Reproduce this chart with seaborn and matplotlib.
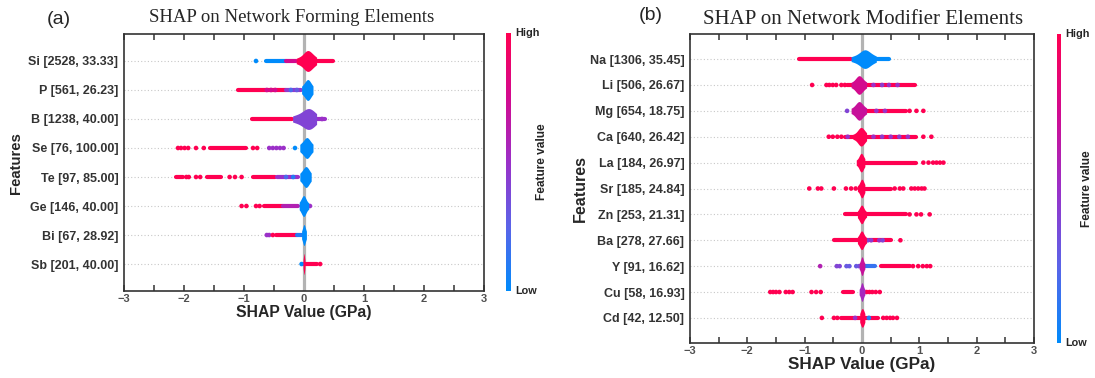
import numpy as np
import pandas as pd
import matplotlib
matplotlib.use('Agg')
import matplotlib.pyplot as plt
import seaborn as sns
from matplotlib.colors import LinearSegmentedColormap, Normalize
from matplotlib.cm import ScalarMappable
from matplotlib.ticker import MultipleLocator

# SHAP beeswarm, values
# runs = dense stretches of points (start, end, feature value), dots = single points (x, feature value)

forming_features = ['Si [2528, 33.33]', 'P [561, 26.23]', 'B [1238, 40.00]', 'Se [76, 100.00]',
                    'Te [97, 85.00]', 'Ge [146, 40.00]', 'Bi [67, 28.92]', 'Sb [201, 40.00]']
forming_core = [
    [-0.13, -0.06, 0.0, 0.03, 0.05, 0.06, 0.07, 0.09, 0.12, 0.16, 0.21],
    [-0.04, 0.0, 0.03, 0.05, 0.06, 0.07, 0.09, 0.11, 0.15],
    [-0.19, -0.10, -0.03, 0.02, 0.05, 0.07, 0.09, 0.12, 0.16, 0.21],
    [-0.07, -0.03, 0.0, 0.03, 0.04, 0.05, 0.06, 0.08, 0.11, 0.15],
    [-0.07, -0.03, 0.0, 0.02, 0.03, 0.04, 0.06, 0.08, 0.12],
    [-0.08, -0.04, -0.02, -0.01, 0.0, 0.01, 0.03, 0.08],
    [-0.04, -0.02, -0.01, 0.0, 0.0, 0.01, 0.02, 0.04],
    [-0.015, -0.005, 0.0, 0.0, 0.005, 0.015],
]
forming_core_level = [1.0, 0.0, 0.4, 0.0, 0.0, 0.0, 0.0, 1.0]
forming_runs = [
    [(-0.64, -0.30, 0.0), (-0.30, -0.14, 0.75), (0.18, 0.48, 1.0)],
    [(-1.10, -0.30, 1.0), (-0.30, -0.05, 0.45)],
    [(-0.86, -0.20, 1.0), (0.18, 0.35, 0.5)],
    [(-1.57, -0.96, 1.0)],
    [(-2.14, -2.02, 1.0), (-1.62, -1.38, 1.0), (-0.85, -0.49, 1.0), (-0.45, -0.10, 0.5)],
    [(-0.66, -0.35, 1.0), (-0.35, -0.10, 0.6)],
    [(-0.46, -0.12, 1.0), (-0.12, -0.03, 0.1)],
    [(0.0, 0.21, 1.0)],
]
forming_dots = [
    [(-0.80, 0.0)],
    [(-0.62, 0.75), (-0.55, 0.75), (-0.48, 0.75), (-0.22, 0.2), (-0.12, 0.3)],
    [(0.30, 0.5)],
    [(-2.10, 1), (-2.05, 1), (-1.99, 1), (-1.93, 1), (-1.80, 1), (-1.67, 1), (-0.85, 1), (-0.78, 1),
     (-0.58, 0.5), (-0.52, 0.5), (-0.46, 0.5), (-0.40, 0.5), (-0.34, 0.5), (-0.15, 0.0)],
    [(-1.96, 1), (-1.92, 1), (-1.80, 1), (-1.73, 1), (-1.24, 1), (-1.15, 1), (-1.04, 1),
     (-0.30, 0.2), (-0.18, 0.1)],
    [(-1.04, 1), (-0.96, 1), (-0.80, 1), (-0.74, 1), (0.10, 0.5)],
    [(-0.62, 0.5), (-0.58, 0.5), (-0.52, 1)],
    [(-0.04, 0.0), (0.27, 1)],
]

modifier_features = ['Na [1306, 35.45]', 'Li [506, 26.67]', 'Mg [654, 18.75]', 'Ca [640, 26.42]',
                     'La [184, 26.97]', 'Sr [185, 24.84]', 'Zn [253, 21.31]', 'Ba [278, 27.66]',
                     'Y [91, 16.62]', 'Cu [58, 16.93]', 'Cd [42, 12.50]']
modifier_core = [
    [-0.19, -0.10, -0.03, 0.01, 0.04, 0.05, 0.06, 0.08, 0.12, 0.18, 0.25],
    [-0.19, -0.12, -0.08, -0.06, -0.05, -0.04, -0.02, 0.02, 0.08],
    [-0.19, -0.12, -0.08, -0.06, -0.05, -0.04, -0.02, 0.02, 0.08],
    [-0.16, -0.09, -0.05, -0.03, -0.02, -0.01, 0.01, 0.04, 0.08],
    [-0.10, -0.05, -0.03, -0.02, -0.01, 0.0, 0.02, 0.05],
    [-0.08, -0.04, -0.02, -0.01, 0.0, 0.01, 0.02, 0.05],
    [-0.08, -0.04, -0.02, -0.01, 0.0, 0.01, 0.03, 0.08],
    [-0.08, -0.04, -0.02, -0.01, 0.0, 0.01, 0.03, 0.08],
    [-0.05, -0.02, -0.01, 0.0, 0.0, 0.01, 0.02, 0.05],
    [-0.05, -0.02, -0.01, 0.0, 0.0, 0.01, 0.02, 0.05],
    [-0.04, -0.02, -0.01, 0.0, 0.01, 0.02, 0.03, 0.05],
]
modifier_core_level = [0.0, 0.75, 0.7, 1.0, 1.0, 1.0, 1.0, 1.0, 0.7, 0.55, 1.0]
modifier_runs = [
    [(-1.10, -0.19, 1.0), (0.22, 0.47, 0.0)],
    [(-0.27, -0.16, 1.0), (0.06, 0.92, 1.0)],
    [(0.06, 0.77, 1.0)],
    [(-0.30, -0.14, 1.0), (0.06, 0.95, 1.0)],
    [(0.03, 0.95, 1.0)],
    [(0.03, 0.51, 1.0)],
    [(-0.30, 0.77, 1.0)],
    [(-0.49, 0.51, 1.0)],
    [(0.03, 0.22, 0.15), (0.34, 0.83, 1.0)],
    [(-0.34, -0.15, 1.0)],
    [(-0.36, -0.04, 1.0), (0.04, 0.28, 1.0)],
]
modifier_dots = [
    [],
    [(-0.87, 1), (-0.62, 1), (-0.57, 1), (-0.51, 1), (-0.45, 1), (-0.36, 1), (-0.30, 1),
     (0.20, 0.5), (0.35, 0.45), (0.47, 0.5), (0.62, 0.5)],
    [(-0.26, 0.4), (0.25, 0.5), (0.40, 0.5), (0.83, 1), (0.95, 1), (1.07, 1)],
    [(-0.58, 1), (-0.51, 1), (-0.43, 1), (-0.36, 1), (-0.25, 0.5), (0.20, 0.5), (0.35, 0.45),
     (0.50, 0.5), (0.65, 0.45), (0.80, 0.5), (1.07, 1), (1.21, 1)],
    [(1.07, 1), (1.16, 1), (1.24, 1), (1.30, 1), (1.36, 1), (1.42, 1)],
    [(-0.92, 1), (-0.77, 1), (-0.71, 1), (-0.49, 1), (-0.28, 1), (-0.19, 1), (-0.11, 1),
     (0.57, 1), (0.66, 1), (0.72, 1), (0.86, 1), (0.92, 1), (0.98, 1), (1.04, 1), (1.09, 1)],
    [(0.83, 1), (0.95, 1), (1.03, 1), (1.18, 1)],
    [(0.10, 0.4), (0.16, 0.45), (0.30, 0.5), (0.36, 0.4), (0.67, 1)],
    [(-0.73, 0.6), (-0.44, 0.4), (-0.39, 0.4), (-0.27, 0.3), (-0.22, 0.3), (-0.10, 0.3),
     (-0.05, 0.35), (0.89, 1), (0.98, 1), (1.06, 1), (1.13, 1), (1.19, 1)],
    [(-1.60, 1), (-1.55, 1), (-1.50, 1), (-1.44, 1), (-1.33, 1), (-1.27, 1), (-1.21, 1),
     (-0.88, 1), (-0.80, 1), (-0.72, 1), (0.08, 1), (0.13, 1), (0.18, 1), (0.24, 1), (0.31, 1)],
    [(-0.70, 1), (-0.49, 1), (-0.43, 1), (-0.12, 0.5), (0.12, 0.1), (0.37, 1), (0.43, 1),
     (0.49, 1), (0.54, 1), (0.61, 1)],
]

sns.set_theme(style='white')
plt.rcParams['font.family'] = ['Liberation Sans', 'DejaVu Sans']

cmap = LinearSegmentedColormap.from_list(
    'shap_red_blue', ['#008bfb', '#5b63e8', '#9b30c8', '#d20a8f', '#ff0051'])

W, H = 1095, 378
fig = plt.figure(figsize=(W / 100, H / 100), dpi=100)


def px_axes(x0, y0, x1, y1):
    return fig.add_axes([x0 / W, 1 - y1 / H, (x1 - x0) / W, (y1 - y0) / H])


def draw_panel(ax, features, core, core_level, runs, dots, top_pad):
    n = len(features)

    core_df = pd.DataFrame([(features[i], v) for i in range(n) for v in core[i]],
                           columns=['feature', 'shap'])
    pal = {features[i]: cmap(core_level[i]) for i in range(n)}
    sns.violinplot(data=core_df, x='shap', y='feature', hue='feature', order=features,
                   hue_order=features, palette=pal, orient='h', inner=None, cut=0,
                   density_norm='width', width=0.72, linewidth=0, saturation=1,
                   legend=False, ax=ax, zorder=4)

    for i in range(n):
        ax.axhline(i, color='#c8c8c8', ls=(0, (1, 2)), lw=0.8, zorder=0)
    ax.axvline(0, color='#b3b3b3', lw=2.3, zorder=1)

    for i, segs in enumerate(runs):
        for a, b, lvl in segs:
            ax.hlines(i, a, b, colors=[cmap(lvl)], lw=3.0, capstyle='round', zorder=2)

    dot_df = pd.DataFrame([(i, x, lvl) for i in range(n) for x, lvl in dots[i]],
                          columns=['row', 'shap', 'level'])
    sns.scatterplot(data=dot_df, x='shap', y='row', hue='level', palette=cmap, hue_norm=(0, 1),
                    s=11, linewidth=0, legend=False, ax=ax, zorder=3)

    ax.set_xlim(-3, 3)
    ax.set_ylim(n - 1 + top_pad, -top_pad)
    ax.xaxis.set_major_locator(MultipleLocator(1))
    ax.xaxis.set_minor_locator(MultipleLocator(0.5))
    ax.tick_params(axis='x', which='both', direction='in', top=True, bottom=True,
                   length=4.3, width=1.1, color='#333333', labelsize=8, labelcolor='#505050', pad=2)
    for lab in ax.get_xticklabels():
        lab.set_fontweight('bold')
    ax.set_yticks(range(n))
    ax.set_yticklabels(features, fontsize=9, fontweight='bold', color='#333333')
    ax.tick_params(axis='y', length=0, pad=4)
    ax.set_xlabel('')
    ax.set_ylabel('')
    for sp in ax.spines.values():
        sp.set_color('#333333')
        sp.set_linewidth(1.2)


def draw_cbar(x0, y0, x1, y1, label_x):
    cax = px_axes(x0, y0, x1, y1)
    cb = fig.colorbar(ScalarMappable(norm=Normalize(0, 1), cmap=cmap), cax=cax)
    cb.outline.set_visible(False)
    cb.set_ticks([0.2, 0.4, 0.6, 0.8])
    cb.set_ticklabels([])
    cax.tick_params(direction='in', left=True, right=True, length=3.2, width=1.1, color='black')
    cax.text(1 + 4 / (x1 - x0), 1.0, 'High', transform=cax.transAxes, ha='left', va='center',
             fontsize=7.8, fontweight='bold')
    cax.text(1 + 4 / (x1 - x0), 0.0, 'Low', transform=cax.transAxes, ha='left', va='center',
             fontsize=7.8, fontweight='bold')
    fig.text(label_x / W, 1 - (y0 + y1) / 2 / H, 'Feature value', rotation=90, ha='center',
             va='center', fontsize=8.6, fontweight='bold')


# panel (a)
ax_a = px_axes(124, 34, 484, 291)
draw_panel(ax_a, forming_features, forming_core, forming_core_level, forming_runs, forming_dots, 0.93)
draw_cbar(506, 33, 511, 291, 542)
fig.text(292 / W, 1 - 18 / H, 'SHAP on Network Forming Elements', ha='center', va='center',
         fontsize=13.5, family='Liberation Serif')
fig.text(59 / W, 1 - 19 / H, '(a)', ha='center', va='center', fontsize=14)
fig.text(304 / W, 1 - 313 / H, 'SHAP Value (GPa)', ha='center', va='center', fontsize=11.3,
         fontweight='bold')
fig.text(16 / W, 1 - 163 / H, 'Features', rotation=90, ha='center', va='center', fontsize=10.7,
         fontweight='bold')

# panel (b)
ax_b = px_axes(690, 34, 1034, 343)
draw_panel(ax_b, modifier_features, modifier_core, modifier_core_level, modifier_runs, modifier_dots, 0.97)
draw_cbar(1057, 34, 1061, 343, 1087)
fig.text(863 / W, 1 - 20 / H, 'SHAP on Network Modifier Elements', ha='center', va='center',
         fontsize=15, family='Liberation Serif')
fig.text(651 / W, 1 - 16 / H, '(b)', ha='center', va='center', fontsize=14)
fig.text(862 / W, 1 - 365 / H, 'SHAP Value (GPa)', ha='center', va='center', fontsize=12.3,
         fontweight='bold')
fig.text(580 / W, 1 - 189 / H, 'Features', rotation=90, ha='center', va='center', fontsize=11.5,
         fontweight='bold')

fig.savefig('out.png', dpi=100)
